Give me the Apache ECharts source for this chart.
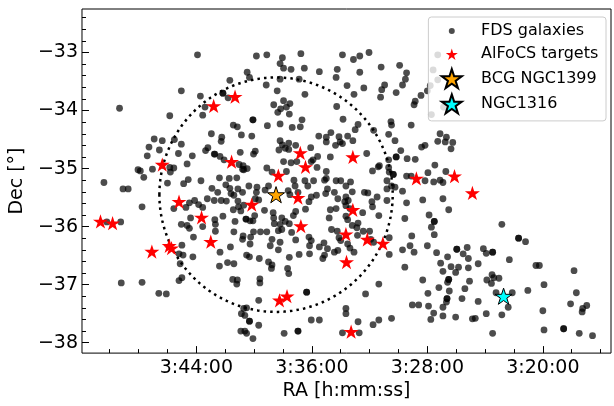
<!DOCTYPE html>
<html>
<head>
<meta charset="utf-8">
<script src="https://cdn.jsdelivr.net/npm/echarts@6/dist/echarts.min.js"></script>
<style>
  html, body { margin: 0; padding: 0; background: #fff; }
  #chart { width: 614px; height: 406px; }
</style>
</head>
<body>
<div id="chart"></div>
<script>
// Fornax Deep Survey galaxies: [RA (deg), Dec (deg)]
const fdsGalaxies = [
  [55.98,-33.04],[56.26,-33.66],[57.33,-33.96],[55.93,-33.75],[55.85,-33.94],[55.89,-34.08],[56.46,-34.09],[55.74,-34.40],
  [56.73,-34.49],[56.59,-34.52],[56.38,-34.50],[56.26,-34.58],[56.82,-34.63],[56.64,-34.68],[55.80,-34.64],[55.84,-34.69],
  [56.31,-34.74],[56.85,-34.78],[56.07,-34.78],[55.69,-34.75],[56.16,-34.92],[56.76,-35.01],[57.01,-35.02],[56.97,-35.04],
  [56.46,-34.98],[56.39,-34.99],[56.45,-35.06],[56.91,-35.15],[56.14,-35.19],[55.92,-35.21],[57.60,-35.24],[56.50,-35.25],
  [56.22,-35.26],
  [54.96,-33.06],[54.78,-33.04],[54.19,-33.02],[53.47,-33.04],[54.51,-33.09],[54.55,-33.19],[54.49,-33.27],[54.36,-33.29],
  [54.13,-33.27],[55.12,-33.34],[55.08,-33.43],[53.87,-33.33],[53.56,-33.29],[53.58,-33.43],[55.42,-33.48],[54.79,-33.56],
  [54.55,-33.46],[54.22,-33.46],[53.39,-33.57],[55.54,-33.70],[55.54,-33.70],[54.60,-33.66],[54.12,-33.72],[55.45,-33.78],
  [54.66,-33.90],[54.49,-33.83],[54.38,-33.88],[54.44,-33.94],[54.54,-33.97],[54.59,-34.03],[54.39,-34.06],[53.57,-33.93],
  [55.02,-34.16],[55.02,-34.16],[55.36,-34.25],[55.29,-34.28],[54.77,-34.26],[54.55,-34.23],[54.34,-34.29],[54.20,-34.28],
  [54.17,-34.16],[53.46,-34.15],[55.56,-34.46],[55.57,-34.53],[55.22,-34.42],[55.04,-34.44],[54.55,-34.52],[53.88,-34.44],
  [53.75,-34.46],[53.75,-34.54],[53.67,-34.38],[53.53,-34.45],[53.51,-34.54],[53.59,-34.60],[53.47,-34.57],[54.51,-34.59],
  [54.40,-34.56],[54.28,-34.60],[54.40,-34.67],[54.46,-34.65],[54.57,-34.68],[54.02,-34.64],[54.98,-34.70],[55.01,-34.75],
  [55.24,-34.72],[55.68,-34.75],[55.59,-34.79],[55.52,-34.85],[54.49,-34.88],[54.36,-34.90],[54.26,-34.88],[53.90,-34.79],
  [53.98,-34.85],[54.01,-34.88],[53.68,-34.80],[55.26,-34.93],[55.19,-34.95],[55.18,-35.02],[55.12,-35.00],[55.20,-35.01],
  [54.78,-34.99],[54.69,-35.06],[54.44,-35.05],[53.91,-34.98],[53.75,-35.05],[55.60,-35.16],[55.43,-35.17],[55.30,-35.16],
  [54.31,-35.20],[54.12,-35.21],[53.78,-35.20],[53.75,-35.17],[53.58,-35.21],[53.50,-35.21],
  [53.01,-33.00],[53.17,-33.06],[53.28,-33.12],[52.48,-33.22],[52.80,-33.25],[53.17,-33.34],[52.36,-33.35],[52.38,-33.46],
  [52.43,-33.56],[51.90,-33.30],[51.82,-33.04],[51.82,-33.47],[51.72,-33.94],[53.10,-33.61],[52.74,-33.56],[52.79,-33.64],
  [52.54,-33.69],[52.81,-33.77],[53.27,-33.72],[51.95,-33.57],[52.00,-33.66],[52.11,-33.74],[52.21,-33.84],[52.23,-33.90],
  [51.93,-34.07],[52.63,-34.19],[52.62,-34.25],[52.28,-34.25],[53.20,-34.24],[53.25,-34.33],[52.93,-34.34],[53.38,-34.44],
  [53.29,-34.52],[52.67,-34.41],[52.56,-34.52],[51.78,-34.40],[51.67,-34.46],[51.82,-34.53],[51.69,-34.54],[51.56,-34.55],
  [51.59,-34.66],[52.04,-34.60],[52.10,-34.63],[52.46,-34.69],[53.05,-34.74],[52.54,-34.80],[52.54,-34.80],[52.67,-34.85],
  [52.35,-34.83],[52.21,-34.84],[52.83,-34.95],[52.85,-34.97],[52.67,-34.98],[52.66,-35.06],[52.59,-35.10],[52.59,-35.10],
  [52.95,-35.04],[52.36,-35.13],[52.28,-35.13],[51.99,-35.07],[51.87,-34.94],[51.68,-35.05],[52.04,-35.21],[51.89,-35.23],
  [51.78,-35.20],[51.73,-35.24],[53.33,-35.23],[52.70,-35.21],
  [57.27,-35.35],[57.18,-35.35],[56.94,-35.66],[57.55,-35.92],[57.31,-35.92],[57.30,-36.97],[56.94,-36.96],[56.65,-37.15],
  [56.52,-37.16],[55.73,-35.34],[56.39,-35.69],[56.18,-35.67],[56.12,-35.59],[56.03,-35.55],[55.96,-35.62],[55.89,-35.67],
  [55.81,-35.52],[55.69,-35.55],[56.10,-35.85],[56.26,-35.96],[56.16,-35.98],[56.12,-36.03],[55.89,-36.00],[55.68,-35.88],
  [55.67,-35.96],[56.05,-36.18],[56.25,-36.32],[56.30,-36.47],[56.23,-36.49],[56.28,-36.64],[56.06,-36.52],[56.25,-36.88],
  [56.30,-36.93],
  [55.49,-35.28],[55.63,-35.41],[55.57,-35.55],[55.48,-35.56],[55.40,-35.43],[55.42,-35.34],[55.28,-35.35],[55.20,-35.41],
  [55.35,-35.46],[55.28,-35.56],[55.36,-35.71],[55.27,-35.66],[55.23,-35.73],[55.18,-35.63],[55.09,-35.30],[54.95,-35.32],
  [54.96,-35.41],[54.81,-35.37],[54.75,-35.30],[54.98,-35.52],[54.92,-35.54],[55.14,-35.87],[55.14,-35.87],[54.82,-35.72],
  [54.67,-35.76],[54.66,-35.85],[54.65,-35.95],[55.54,-35.82],[55.33,-35.91],[55.07,-35.90],[54.99,-35.81],[55.02,-35.90],
  [54.52,-35.85],[54.46,-35.91],[54.55,-35.96],[54.39,-35.95],[54.32,-35.81],[54.28,-35.74],[54.11,-35.70],[54.07,-35.30],
  [54.29,-35.30],[54.24,-35.41],[54.41,-35.38],[54.38,-35.45],[53.97,-35.21],[53.73,-35.35],[53.76,-35.43],[53.61,-35.41],
  [53.55,-35.52],[53.58,-35.69],[54.01,-35.49],[53.92,-35.46],[54.05,-35.57],[53.41,-35.30],[53.43,-35.57],[53.70,-35.85],
  [53.68,-35.71],[53.41,-35.82],[53.38,-35.88],[55.67,-36.08],[55.35,-36.09],[55.19,-36.16],[55.20,-36.22],[55.01,-36.09],
  [54.89,-36.09],[54.78,-36.09],[55.06,-36.18],[54.58,-36.07],[54.52,-36.05],[54.35,-36.10],[54.28,-36.23],[54.05,-36.18],
  [54.01,-36.24],[54.04,-36.33],[54.69,-36.22],[54.72,-36.33],[54.55,-36.27],[54.58,-36.40],[55.07,-36.30],[55.41,-36.35],
  [55.59,-36.44],[53.87,-36.35],[53.79,-36.28],[53.73,-36.38],[53.78,-36.49],[53.66,-36.05],[53.56,-36.08],[53.53,-36.19],
  [53.50,-36.24],[53.55,-36.41],[53.61,-36.44],[55.13,-36.49],[55.08,-36.52],[54.91,-36.55],[54.75,-36.61],[54.69,-36.66],
  [54.70,-36.72],[54.39,-36.53],[54.22,-36.48],[54.04,-36.47],[53.81,-36.55],[54.42,-36.72],[54.40,-36.81],[55.60,-36.68],
  [55.46,-36.62],[55.35,-36.64],[55.37,-36.91],[55.29,-36.92],[55.30,-36.99],[54.90,-36.90],[54.90,-36.97],[54.92,-37.27],
  [54.09,-37.13],[54.09,-37.13],[55.18,-37.41],[55.13,-37.40],[55.22,-37.50],[55.16,-37.53],[55.08,-37.63],[55.08,-37.63],
  [54.92,-37.70],[55.23,-37.80],[55.16,-37.80],[55.13,-37.84],[55.02,-37.93],[54.48,-37.84],[54.24,-37.80],[54.24,-37.80],
  [54.01,-37.61],[53.87,-37.61],[53.41,-37.41],[53.41,-37.50],[53.47,-37.83],
  [53.30,-35.40],[53.09,-35.41],[53.03,-35.42],[52.87,-35.49],[52.70,-35.35],[52.62,-35.30],[52.56,-35.32],[52.43,-35.39],
  [51.73,-35.52],[52.08,-35.54],[53.41,-35.49],[53.37,-35.55],[53.41,-35.64],[53.34,-35.69],[52.96,-35.57],[52.95,-35.66],
  [52.70,-35.55],[52.36,-35.59],[53.12,-35.76],[52.84,-35.81],[53.20,-35.94],[53.30,-35.98],[53.22,-36.02],[53.11,-36.08],
  [53.00,-36.08],[52.39,-35.86],[51.97,-35.80],[51.63,-35.71],[51.88,-35.91],[51.88,-35.91],[51.93,-36.01],[51.88,-36.14],
  [53.21,-36.15],[53.38,-36.30],[53.34,-36.37],[53.27,-36.44],[52.98,-36.22],[52.93,-36.27],[52.66,-36.19],[52.27,-36.16],
  [52.30,-36.33],[52.23,-36.44],[52.43,-36.40],[52.66,-36.48],[52.39,-36.70],[52.00,-36.33],[51.84,-36.45],[51.65,-36.52],
  [51.49,-36.39],[51.49,-36.39],[51.38,-36.47],[51.31,-36.36],[51.29,-36.55],[51.77,-36.63],[51.73,-36.77],[51.59,-36.69],
  [51.51,-36.79],[51.46,-36.70],[51.29,-36.71],[51.63,-36.91],[51.63,-36.91],[51.65,-36.96],[51.27,-36.94],[52.08,-36.92],
  [51.80,-37.05],[51.62,-37.11],[51.35,-37.07],[51.99,-37.15],[51.66,-37.24],[51.66,-37.24],[51.67,-37.30],[51.40,-37.24],
  [51.12,-37.29],[52.26,-37.35],[52.15,-37.35],[51.98,-37.37],[51.73,-37.39],[51.89,-37.49],[51.94,-37.60],[51.73,-37.54],
  [51.51,-37.56],[51.22,-37.59],[51.17,-37.58],[52.84,-36.99],[53.07,-37.16],[53.20,-37.64],[52.94,-37.69],[52.84,-37.61],
  [52.62,-37.58],[53.18,-37.83],
  [50.71,-35.96],[50.42,-36.20],[50.42,-36.20],[50.30,-36.26],[51.03,-36.38],[50.98,-36.46],[50.87,-36.44],[50.87,-36.44],
  [50.58,-36.57],[51.12,-36.64],[50.12,-36.67],[50.06,-36.67],[49.46,-36.76],[50.88,-36.83],[50.85,-36.88],[50.97,-36.92],
  [50.89,-36.98],[50.76,-36.89],[49.98,-37.00],[50.26,-37.10],[50.53,-37.14],[50.81,-37.14],[49.42,-37.14],[50.60,-37.39],
  [49.52,-37.33],[49.24,-37.36],[49.31,-37.41],[49.32,-37.47],[50.00,-37.45],[50.98,-37.50],[50.71,-37.52],[49.98,-37.78],
  [49.64,-37.76],[49.64,-37.76],[49.37,-37.84],[49.14,-37.88],[50.87,-37.84]
];

// AlFoCS targets: [RA (deg), Dec (deg)]
const alfocsTargets = [
  [55.70,-33.92],[55.33,-33.76],[56.59,-34.93],[54.20,-34.73],[54.11,-34.97],[55.39,-34.88],[54.58,-35.12],[53.29,-34.80],
  [52.19,-35.17],[51.53,-35.13],[51.22,-35.42],[57.66,-35.91],[57.45,-35.94],[56.77,-36.43],[56.47,-36.33],[56.43,-36.37],
  [56.30,-35.57],[55.91,-35.84],[55.75,-36.26],[55.04,-35.62],[54.24,-35.50],[54.19,-35.99],[53.41,-36.13],[53.40,-36.61],
  [54.56,-37.27],[54.43,-37.20],[53.32,-37.81],[53.29,-35.71],[53.04,-36.22],[52.77,-36.29]
];

const bcgNGC1399 = [54.62, -35.45];
const ngc1316 = [50.68, -37.20];

// Dotted circle around NGC 1399 (radius in degrees)
const circleRadius = 2.02;

// Axis ranges and tick values (degrees)
const raRange = [48.82, 57.98];
const decRange = [-38.18, -32.25];
const raMajorTicks = [50, 52, 54, 56];
const decMajorTicks = [-38, -37, -36, -35, -34, -33];

const raMinorTicks = [];
for (let v = 49; v <= 57.5 + 1e-9; v += 0.5) {
  if (raMajorTicks.indexOf(v) < 0) raMinorTicks.push(v);
}
const decMinorTicks = [];
for (let i = -190; i <= -162; i++) {
  const v = i / 5;
  if (Math.abs(v - Math.round(v)) > 1e-9 && v >= decRange[0] && v <= decRange[1]) decMinorTicks.push(+v.toFixed(1));
}

const circlePoints = [];
for (let k = 0; k <= 360; k++) {
  const t = k * Math.PI / 180;
  circlePoints.push([bcgNGC1399[0] + circleRadius * Math.cos(t), bcgNGC1399[1] + circleRadius * Math.sin(t)]);
}

// Five-pointed star outline (matplotlib-like '*' marker)
function starPath(cx, cy, R) {
  const pts = [];
  for (let i = 0; i < 10; i++) {
    const a = -Math.PI / 2 + i * Math.PI / 5;
    const r = (i % 2) ? R * 0.381966 : R;
    pts.push((cx + r * Math.cos(a)).toFixed(3) + ' ' + (cy + r * Math.sin(a)).toFixed(3));
  }
  return 'M' + pts.join(' L') + ' Z';
}

// Legend icons drawn inside a fixed 40x22 box so each marker keeps its own size
const ICON_W = 40, ICON_H = 22, ICON_CX = 15.7, ICON_CY = 11;
function boxed(shape) { return 'path://M0 0 M' + ICON_W + ' ' + ICON_H + ' ' + shape; }
function legendStar(width) {
  const R = width / 1.902;
  return boxed(starPath(ICON_CX, ICON_CY + 0.0955 * R, R));
}
function legendDot(d) {
  const r = d / 2;
  return boxed('M' + (ICON_CX - r) + ' ' + ICON_CY + ' A' + r + ' ' + r + ' 0 1 0 ' + (ICON_CX + r) + ' ' + ICON_CY +
               ' A' + r + ' ' + r + ' 0 1 0 ' + (ICON_CX - r) + ' ' + ICON_CY + ' Z');
}

const STAR = 'path://' + starPath(0, 0, 10);
const FONT = 'DejaVu Sans';

function raLabel(deg) {
  const s = Math.round(deg * 240);
  const h = Math.floor(s / 3600);
  const m = Math.floor((s % 3600) / 60);
  const sec = s % 60;
  return h + ':' + String(m).padStart(2, '0') + ':' + String(sec).padStart(2, '0');
}
function decLabel(v) {
  return (v < 0 ? '\u2212' : '') + Math.abs(v);
}

const chart = echarts.init(document.getElementById('chart'), null, { renderer: 'canvas' });

chart.setOption({
  animation: false,
  backgroundColor: '#fff',
  grid: {
    left: 74, right: 3, top: 9, bottom: 42,
    show: true, borderColor: '#000', borderWidth: 1, backgroundColor: 'transparent'
  },
  xAxis: [
    {
      type: 'value', min: raRange[0], max: raRange[1], inverse: true, position: 'bottom',
      axisLine: { show: false }, splitLine: { show: false },
      axisTick: { show: true, inside: true, length: 7, customValues: raMajorTicks, lineStyle: { color: '#000', width: 1 } },
      axisLabel: { customValues: raMajorTicks, formatter: raLabel, color: '#000', fontSize: 19, fontFamily: FONT, margin: 5 },
      name: 'RA [h:mm:ss]', nameLocation: 'middle', nameGap: 24,
      nameTextStyle: { color: '#000', fontSize: 19, fontFamily: FONT }
    },
    {
      type: 'value', min: raRange[0], max: raRange[1], inverse: true, position: 'bottom',
      axisLine: { show: false }, splitLine: { show: false }, axisLabel: { show: false },
      axisTick: { show: true, inside: true, length: 4, customValues: raMinorTicks, lineStyle: { color: '#000', width: 1 } }
    }
  ],
  yAxis: [
    {
      type: 'value', min: decRange[0], max: decRange[1], position: 'left',
      axisLine: { show: false }, splitLine: { show: false },
      axisTick: { show: true, inside: true, length: 7, customValues: decMajorTicks, lineStyle: { color: '#000', width: 1 } },
      axisLabel: { customValues: decMajorTicks, formatter: decLabel, color: '#000', fontSize: 19, fontFamily: FONT, margin: 4 },
      name: 'Dec [°]', nameLocation: 'middle', nameGap: 43, nameRotate: 90,
      nameTextStyle: { color: '#000', fontSize: 19, fontFamily: FONT }
    },
    {
      type: 'value', min: decRange[0], max: decRange[1], position: 'left',
      axisLine: { show: false }, splitLine: { show: false }, axisLabel: { show: false },
      axisTick: { show: true, inside: true, length: 4, customValues: decMinorTicks, lineStyle: { color: '#000', width: 1 } }
    }
  ],
  legend: {
    data: [
      { name: 'FDS galaxies', icon: legendDot(6) },
      { name: 'AlFoCS targets', icon: legendStar(12) },
      { name: 'BCG NGC1399', icon: legendStar(20) },
      { name: 'NGC1316', icon: legendStar(20) }
    ],
    orient: 'vertical', align: 'left', right: 8, top: 17,
    itemWidth: ICON_W, itemHeight: ICON_H, itemGap: 1.3,
    padding: [3, 7.7, 5, 6.7],
    backgroundColor: 'rgba(255,255,255,0.8)', borderColor: '#cccccc', borderWidth: 1, borderRadius: 3,
    selectedMode: false,
    textStyle: { fontSize: 16, fontFamily: FONT, color: '#000' }
  },
  series: [
    {
      name: 'FDS galaxies', type: 'scatter', xAxisIndex: 0, yAxisIndex: 0,
      data: fdsGalaxies, symbol: 'circle', symbolSize: 6.8,
      itemStyle: { color: '#000', opacity: 0.7 }, z: 2,
      emphasis: { disabled: true }
    },
    {
      name: 'circle', type: 'line', xAxisIndex: 0, yAxisIndex: 0,
      data: circlePoints, showSymbol: false, smooth: false, silent: true,
      lineStyle: { color: '#000', width: 2.5, type: [2.5, 4.1] }, z: 3
    },
    {
      name: 'AlFoCS targets', type: 'scatter', xAxisIndex: 0, yAxisIndex: 0,
      data: alfocsTargets, symbol: STAR, symbolKeepAspect: true, symbolSize: 15,
      itemStyle: { color: '#ff0000', opacity: 1 }, z: 4,
      emphasis: { disabled: true }
    },
    {
      name: 'BCG NGC1399', type: 'scatter', xAxisIndex: 0, yAxisIndex: 0,
      data: [bcgNGC1399], symbol: STAR, symbolKeepAspect: true, symbolSize: 17,
      itemStyle: { color: '#ffa500', borderColor: '#000', borderWidth: 1, opacity: 1 }, z: 5,
      emphasis: { disabled: true }
    },
    {
      name: 'NGC1316', type: 'scatter', xAxisIndex: 0, yAxisIndex: 0,
      data: [ngc1316], symbol: STAR, symbolKeepAspect: true, symbolSize: 17,
      itemStyle: { color: '#00ffff', borderColor: '#000', borderWidth: 1, opacity: 1 }, z: 5,
      emphasis: { disabled: true }
    }
  ]
});
</script>
</body>
</html>
